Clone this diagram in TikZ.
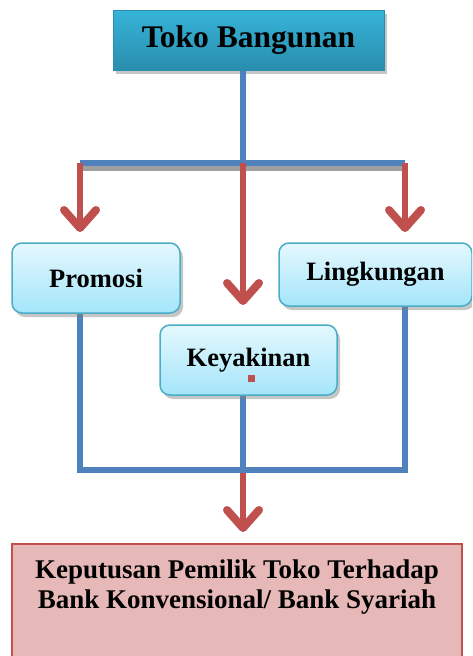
\documentclass[tikz,border=0pt]{standalone}
\usepackage{fontspec}
\setmainfont{Liberation Serif}
\usetikzlibrary{arrows.meta,shadows}
\definecolor{TopTeal}{HTML}{36B4D9}
\definecolor{TopTealDark}{HTML}{2A8DAD}
\definecolor{LineBlue}{HTML}{4F81BD}
\definecolor{ArrowRed}{HTML}{C0504D}
\definecolor{BoxEdge}{HTML}{4BACC6}
\definecolor{BoxLight}{HTML}{E4F8FE}
\definecolor{BoxMid}{HTML}{A4E5FA}
\definecolor{ResultFill}{HTML}{E6B8B7}

\begin{document}
\begin{tikzpicture}[
  x=1pt, y=-1pt,
  title/.style={draw=TopTealDark, line width=1pt, top color=TopTeal, bottom color=TopTealDark, minimum width=271pt, minimum height=60pt, font=\fontsize{31.5}{36}\selectfont\bfseries, drop shadow={shadow xshift=3pt, shadow yshift=-4pt, opacity=0.45}},
  factor/.style={draw=BoxEdge, line width=1.5pt, rounded corners=10pt, top color=BoxLight, bottom color=BoxMid, minimum height=70pt, font=\fontsize{26.5}{30}\selectfont\bfseries, drop shadow={shadow xshift=3pt, shadow yshift=-4pt, opacity=0.45}},
  result/.style={draw=ArrowRed, line width=1.5pt, fill=ResultFill, minimum width=450pt, minimum height=125pt},
  link/.style={LineBlue, line width=5.5pt},
  linkshadow/.style={gray!75, line width=5pt},
  arr/.style={ArrowRed, line width=6pt, -{Straight Barb[length=18pt, width=32pt, line width=8pt, round]}}
]
\useasboundingbox (0,0) rectangle (472,656);
\clip (0,0) rectangle (472,656);
% junction points
\coordinate (jl) at (80,163);
\coordinate (jm) at (243,163);
\coordinate (jr) at (405,163);
\coordinate (bl) at (80,470);
\coordinate (bm) at (243,470);
\coordinate (br) at (405,470);
% arrow ends
\coordinate (el) at (80,232);
\coordinate (em) at (243,305);
\coordinate (er) at (405,232);
\coordinate (eb) at (243,532);

\node[title] (top) at (248.5,40) {Toko Bangunan};
\draw[linkshadow] ([yshift=-5pt]jl) -- ([yshift=-5pt]jr);
\draw[link] (top.south -| jm) -- (jm);
\draw[link] (jl) -- (jr);

\draw[link] (bl |- 0,312) -- (bl) -- (br) -- (br |- 0,305);
\draw[link] (bm |- 0,394) -- (bm);

\node[factor, minimum width=168pt] (promo) at (96,278) {Promosi};
\node[factor, minimum width=193pt, minimum height=63pt] (ling) at (375.5,274.5) {Lingkungan};
\node[factor, minimum width=177pt] (keya) at (248.5,360) {\raisebox{4pt}{Keyakinan}};
\node[fill=ArrowRed, minimum size=7pt, inner sep=0pt] (dot) at (251,378) {};

\draw[arr] (jl) -- (el);
\draw[arr] (jm) -- (em);
\draw[arr] (jr) -- (er);
\draw[arr] ([yshift=-3pt]bm) -- (eb);

\node[result, anchor=north] (res) at (237,543) {};
\node[align=center, font=\fontsize{27}{30}\selectfont\bfseries] (restext) at (237,587) {Keputusan Pemilik Toko Terhadap\\Bank Konvensional/ Bank Syariah};
\end{tikzpicture}
\end{document}
